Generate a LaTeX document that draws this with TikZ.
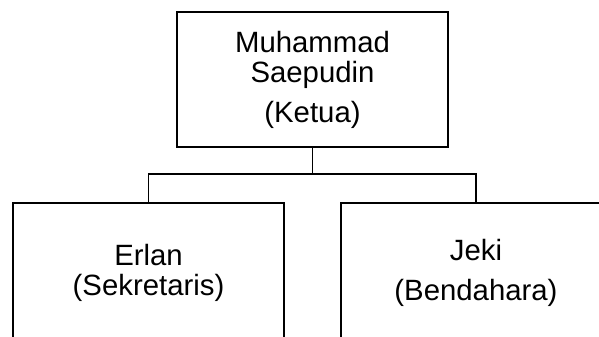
\documentclass[tikz,border=0pt]{standalone}
\usepackage{fontspec}
\setmainfont{Liberation Sans}
\tikzstyle{jabatan}=[rectangle,draw=black,line width=2pt,align=center,inner sep=0pt,font=\fontsize{22}{22.5}\selectfont]
\tikzstyle{garis}=[draw=black,line width=0.8pt]

\begin{document}
\begin{tikzpicture}[x=0.75pt,y=-0.75pt]
\def \wid {203.25pt};
\def \hi {101.25pt};
\def \hib {105pt};

\useasboundingbox (0,0) rectangle (599,336);
\clip (0,0) rectangle (599,336);

% ketua
\node[jabatan,minimum width=\wid,minimum height=\hi] (ketua) at (312.5,79.5)
	{Muhammad\\Saepudin\\[7.5pt](Ketua)};

% anggota
\node[jabatan,minimum width=\wid,minimum height=\hib] (sekretaris) at (148.5,273)
	{Erlan\\(Sekretaris)};
\node[jabatan,minimum width=202.5pt,minimum height=\hib] (bendahara) at (476,273)
	{Jeki\\[8pt](Bendahara)};

\coordinate (cabang) at (312.5,174);

\draw[garis] (ketua.south) -- (cabang);
\draw[garis] (cabang) -| (sekretaris.north);
\draw[garis] (cabang) -| (bendahara.north);

\end{tikzpicture}
\end{document}
